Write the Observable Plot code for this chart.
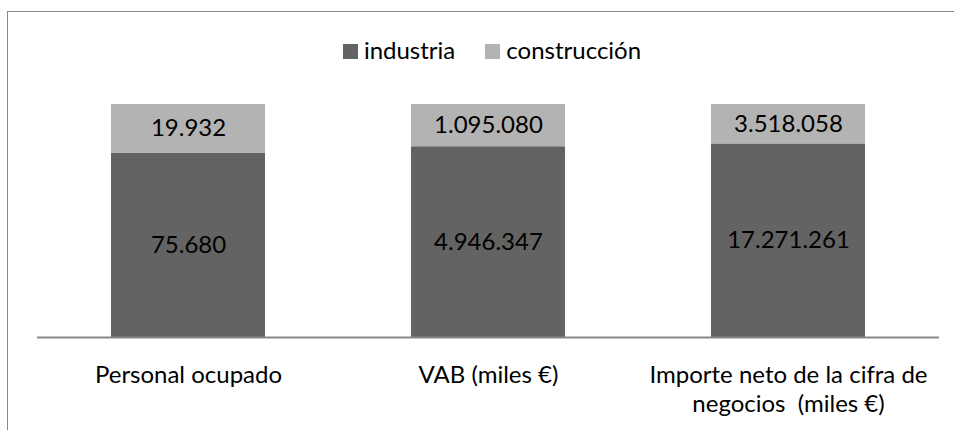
<!DOCTYPE html>
<html>
<head>
<meta charset="utf-8">
<script src="https://cdn.jsdelivr.net/npm/d3@7"></script>
<script src="https://cdn.jsdelivr.net/npm/@observablehq/plot@0.6"></script>
<style>
  body { margin: 0; background: #fff; font-family: Lato, "Open Sans", sans-serif; }
  #wrap { position: relative; width: 954px; height: 430px; overflow: hidden; }
  #frame { position: absolute; left: 7px; top: 11px; width: 960px; height: 430px;
           border-left: 1.5px solid #878787; border-top: 1.5px solid #878787; pointer-events: none; }
  #legend { height: 80px; display: flex; justify-content: center; align-items: flex-start;
            padding-left: 30px; box-sizing: border-box; padding-top: 35px; font-size: 24px; color: #000; }
  .item { display: flex; align-items: baseline; margin: 0 15px; }
  .sw { display: inline-block; width: 15px; height: 15px; margin-right: 6px; }
  #chart svg { display: block; }
</style>
</head>
<body>
<div id="wrap">
  <div id="frame"></div>
  <div id="legend"></div>
  <div id="chart"></div>
</div>
<script>
const categories = ["Personal ocupado", "VAB (miles €)", "Importe neto de la cifra de\nnegocios  (miles €)"];
const series = ["industria", "construcción"];
const industria = [75680, 4946347, 17271261];
const construccion = [19932, 1095080, 3518058];
const colors = ["#636363", "#b3b3b3"];

const data = [];
categories.forEach((c, i) => {
  data.push({cat: c, serie: series[0], value: industria[i]});
  data.push({cat: c, serie: series[1], value: construccion[i]});
});

const es = d3.formatLocale({decimal: ",", thousands: ".", grouping: [3], currency: ["", " €"]});
const fmt = es.format(",d");

// legend
const legend = document.getElementById("legend");
series.forEach((s, i) => {
  const it = document.createElement("div");
  it.className = "item";
  const sw = document.createElement("span");
  sw.className = "sw";
  sw.style.background = colors[i];
  const t = document.createElement("span");
  t.textContent = s;
  it.appendChild(sw); it.appendChild(t);
  legend.appendChild(it);
});

const chart = Plot.plot({
  width: 954,
  height: 350,
  marginTop: 24,
  marginBottom: 93,
  marginLeft: 37,
  marginRight: 15,
  style: {fontFamily: "Lato, 'Open Sans', sans-serif", background: "transparent"},
  x: {domain: categories, paddingInner: 0.488, paddingOuter: 0.244, label: null},
  y: {domain: [0, 1], axis: null},
  color: {domain: series, range: colors},
  marks: [
    Plot.barY(data, {x: "cat", y: "value", fill: "serie", offset: "normalize"}),
    Plot.text(data, Plot.stackY({x: "cat", y: "value", z: "serie", offset: "normalize",
      text: d => fmt(d.value), fill: "#000", fontSize: 24})),
    Plot.ruleY([0], {stroke: "#878787", strokeWidth: 2}),
    Plot.axisX({tickSize: 0, tickPadding: 25, fontSize: 24, lineHeight: 1.2, fill: "#000", label: null})
  ]
});
document.getElementById("chart").appendChild(chart);
</script>
</body>
</html>
